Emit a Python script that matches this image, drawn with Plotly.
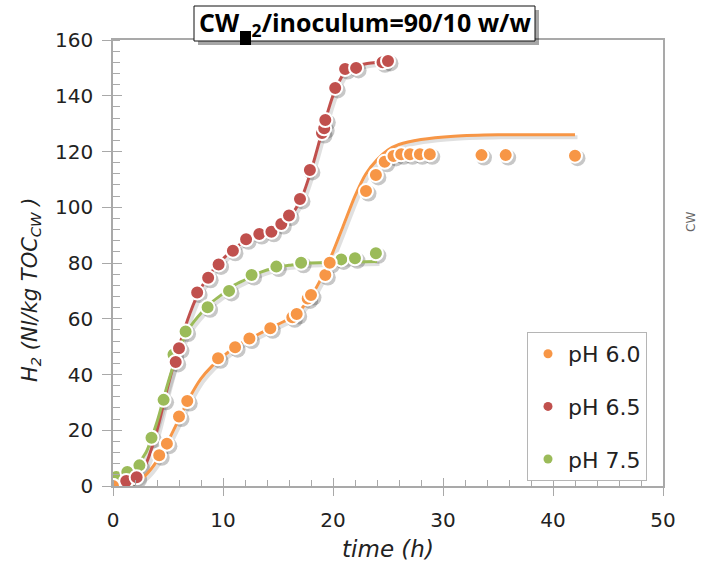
import plotly.graph_objects as go

# ---------------- data ----------------
series_names = ["pH 6.0", "pH 6.5", "pH 7.5"]
series_colors = ["#F79646", "#C0504D", "#9BBB59"]

t_ph60 = [0, 4.2, 4.9, 6.0, 6.75, 9.55, 11.1, 12.4, 14.3, 16.3, 16.7, 17.7, 18.0, 19.3, 19.7,
          23.0, 23.9, 24.7, 25.5, 26.2, 27.0, 27.9, 28.8, 33.5, 35.7, 42.0]
h_ph60 = [0, 11.0, 15.2, 24.9, 30.5, 45.8, 49.8, 52.9, 56.6, 60.5, 61.7, 67.3, 68.5, 75.7, 80.1,
          105.8, 111.6, 116.3, 118.4, 119.0, 119.0, 119.0, 119.0, 118.7, 118.7, 118.5]

t_ph65 = [0, 1.2, 2.15, 5.7, 6.0, 7.65, 8.65, 9.6, 10.9, 12.1, 13.3, 14.4, 15.3, 16.0, 17.0,
          17.9, 19.0, 19.2, 19.3, 20.2, 21.1, 22.1, 24.5, 25.0]
h_ph65 = [0, 1.8, 3.1, 44.5, 49.4, 69.4, 74.7, 79.5, 84.4, 88.5, 90.4, 91.2, 94.0, 97.0, 103.0,
          113.4, 126.6, 128.3, 131.3, 142.8, 149.6, 150.0, 152.0, 152.5]

t_ph75 = [0, 0.3, 1.3, 2.4, 3.5, 4.6, 5.5, 6.6, 8.6, 10.55, 12.6, 14.85, 17.1, 20.75, 22.0, 23.9]
h_ph75 = [0, 3.2, 5.0, 7.4, 17.3, 30.9, 47.2, 55.4, 64.1, 70.0, 75.7, 78.7, 80.1, 81.3, 81.7, 83.5]

# fitted curves
fit_t60 = [0, 2, 3, 4, 5, 6, 7, 8, 9, 10, 11, 12, 13, 14, 15, 16, 17, 18, 19, 20, 21, 22, 23, 24,
           25, 26, 28, 31, 35, 42]
fit_h60 = [0, 1, 4, 9, 16, 24, 32, 38.5, 43, 46.5, 49.5, 52, 54, 56, 58, 60, 63, 68, 75, 84, 94,
           104, 112, 117, 120.5, 122.5, 124.3, 125.5, 126, 126]

fit_t65 = [0, 1, 2, 3, 4, 5, 6, 7, 8, 9, 10, 11, 12, 13, 14, 15, 16, 17, 18, 19, 20, 21, 22, 23,
           24, 25]
fit_h65 = [0, 0.5, 2.5, 8, 20, 36, 50, 62, 71, 77, 81.5, 85, 88, 90, 91.5, 93.5, 96.5, 102, 113,
           127, 140, 148, 150.5, 151.5, 152, 152.5]

fit_t75 = [0, 1, 2, 3, 4, 5, 6, 7, 8, 9, 10, 11, 12, 13, 14, 15, 16, 17, 18, 20, 22, 24]
fit_h75 = [0, 3, 6.5, 12, 23, 37, 49, 57, 62, 66, 69, 72, 74, 76, 77.5, 78.5, 79.2, 79.6, 80,
           80.3, 80.4, 80.5]

x_range = [0, 50]
y_range = [0, 160]
x_ticks = [0, 10, 20, 30, 40, 50]
y_ticks = [0, 20, 40, 60, 80, 100, 120, 140, 160]

points = [(t_ph60, h_ph60), (t_ph65, h_ph65), (t_ph75, h_ph75)]
fits = [(fit_t60, fit_h60), (fit_t65, fit_h65), (fit_t75, fit_h75)]

# ---------------- layout geometry (pixels) ----------------
W, H = 701, 565
L, R, T, B = 113, 663, 40, 486


def px(xp):
    return (xp - L) / (R - L)


def py(yp):
    return (B - yp) / (B - T)


# shadow offset in data units (about 2.5 px right / down)
dx = 2.5 * (x_range[1] - x_range[0]) / (R - L)
dy = 2.5 * (y_range[1] - y_range[0]) / (B - T)

FONT = "DejaVu Sans, sans-serif"
TXT = "#222222"

fig = go.Figure()

# shadows (base subplot x/y, shifted range)
for (ft, fh) in fits:
    fig.add_trace(go.Scatter(x=ft, y=fh, mode="lines", line=dict(color="rgba(0,0,0,0.12)", width=4,
                             shape="spline", smoothing=0.8), showlegend=False, hoverinfo="skip",
                             xaxis="x", yaxis="y"))
for (pt, ph) in points:
    fig.add_trace(go.Scatter(x=pt, y=ph, mode="markers",
                             marker=dict(size=16, color="rgba(0,0,0,0.22)", line=dict(width=0)),
                             showlegend=False, hoverinfo="skip", xaxis="x", yaxis="y"))

# fitted lines (main subplot x2/y2)
for (ft, fh), c in zip(fits, series_colors):
    fig.add_trace(go.Scatter(x=ft, y=fh, mode="lines",
                             line=dict(color=c, width=3, shape="spline", smoothing=0.8),
                             showlegend=False, xaxis="x2", yaxis="y2"))

# markers
for idx in [2, 1, 0]:
    pt, ph = points[idx]
    fig.add_trace(go.Scatter(x=pt, y=ph, mode="markers",
                             marker=dict(size=14, color=series_colors[idx],
                                         line=dict(color="white", width=2)),
                             showlegend=False, xaxis="x2", yaxis="y2"))

# legend entries
for i, (name, c) in enumerate(zip(series_names, series_colors)):
    fig.add_trace(go.Scatter(x=[None], y=[None], mode="markers", name=name,
                             marker=dict(size=9, color=c), legendgroup=f"g{i}",
                             xaxis="x2", yaxis="y2"))

# dummy trace so inner-tick overlay axes are drawn
fig.add_trace(go.Scatter(x=[None], y=[None], mode="markers", showlegend=False,
                         xaxis="x3", yaxis="y3"))

axis_col = "#a9a9a9"
tick_font = dict(family=FONT, size=20, color=TXT)

fig.update_layout(
    width=W, height=H,
    margin=dict(l=L, r=W - R, t=T, b=H - B, pad=0, autoexpand=False),
    paper_bgcolor="white", plot_bgcolor="white",
    showlegend=True,
    legend=dict(x=px(527), y=py(332), xanchor="left", yanchor="top",
                bgcolor="white", bordercolor="#b5b5b5", borderwidth=1,
                font=dict(family=FONT, size=22, color=TXT),
                tracegroupgap=21, itemwidth=30),
    xaxis=dict(range=[x_range[0] - dx, x_range[1] - dx], visible=False, fixedrange=True,
               automargin=False),
    yaxis=dict(range=[y_range[0] + dy, y_range[1] + dy], visible=False, fixedrange=True,
               automargin=False),
    xaxis2=dict(range=x_range, overlaying="x", anchor="y2", tickvals=x_ticks, automargin=False,
                showgrid=False, zeroline=False, showline=True, linecolor=axis_col, linewidth=1.5,
                mirror=True, ticks="outside", ticklen=8, tickwidth=1.2, tickcolor=axis_col,
                minor=dict(dtick=2, ticks="inside", ticklen=6, tickcolor=axis_col, tickwidth=1),
                tickfont=tick_font, ticklabelstandoff=7,
                title=dict(text="<i>time (h)</i>", standoff=10,
                           font=dict(family=FONT, size=23, color=TXT))),
    yaxis2=dict(range=y_range, overlaying="y", anchor="x2", tickvals=y_ticks, automargin=False,
                showgrid=False, zeroline=False, showline=True, linecolor=axis_col, linewidth=1.5,
                mirror=True, ticks="outside", ticklen=9, tickwidth=1.2, tickcolor=axis_col,
                minor=dict(dtick=4, ticks="inside", ticklen=7, tickcolor=axis_col, tickwidth=1),
                tickfont=tick_font, ticklabelstandoff=5),
    xaxis3=dict(range=x_range, overlaying="x", anchor="y3", tickvals=x_ticks, showticklabels=False,
                showgrid=False, zeroline=False, showline=False, ticks="inside", ticklen=8,
                tickwidth=1.2, tickcolor=axis_col, automargin=False),
    yaxis3=dict(range=y_range, overlaying="y", anchor="x3", tickvals=y_ticks, showticklabels=False,
                showgrid=False, zeroline=False, showline=False, ticks="inside", ticklen=9,
                tickwidth=1.2, tickcolor=axis_col, automargin=False),
)

# y-axis title as annotation
fig.add_annotation(xref="paper", yref="paper", x=px(31), y=py(290), showarrow=False,
                   textangle=-90, xanchor="center", yanchor="middle",
                   text="<i>H<sub>2</sub> (Nl/kg TOC<sub>CW</sub> )</i>",
                   font=dict(family=FONT, size=21, color=TXT))

# stray "CW" label at right
fig.add_annotation(xref="paper", yref="paper", x=px(691), y=py(222), showarrow=False,
                   xanchor="center", yanchor="middle",
                   textangle=-90, text="CW",
                   font=dict(family=FONT, size=12, color="#666666"))

# title box with shadow
fig.add_shape(type="rect", xref="paper", yref="paper", x0=px(198), x1=px(539), y0=py(45), y1=py(10),
              fillcolor="rgba(0,0,0,0.35)", line=dict(width=0), layer="above")
fig.add_shape(type="rect", xref="paper", yref="paper", x0=px(194), x1=px(535), y0=py(41), y1=py(6),
              fillcolor="white", line=dict(color="#111111", width=1), layer="above")
fig.add_annotation(xref="paper", yref="paper", x=px(365), y=py(24), showarrow=False,
                   xanchor="center", yanchor="middle",
                   text="<b>CW\u2002<sub>2</sub>/inoculum=90/10 w/w</b>",
                   font=dict(family="Open Sans, DejaVu Sans, sans-serif", size=25, color="black"))
# black block artifact in title
fig.add_shape(type="rect", xref="paper", yref="paper", x0=px(240), x1=px(251), y0=py(45), y1=py(31),
              fillcolor="black", line=dict(width=0), layer="above")

fig.write_html("out.html")
